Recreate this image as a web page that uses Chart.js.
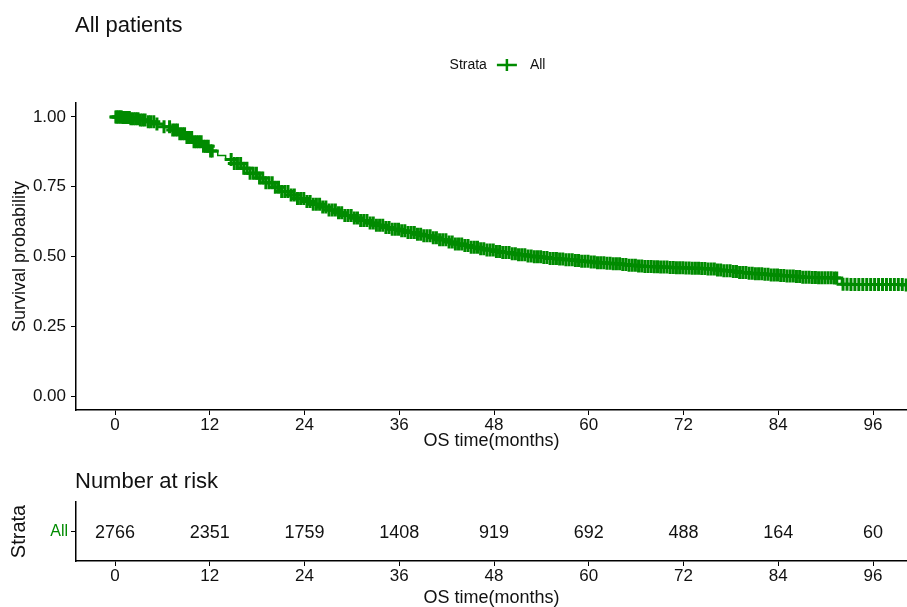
<!DOCTYPE html>
<html>
<head>
<meta charset="utf-8">
<title>All patients</title>
<script src="https://cdn.jsdelivr.net/npm/chart.js@4.4.0/dist/chart.umd.min.js"></script>
<style>
  html, body { margin: 0; padding: 0; background: #fff; }
  #wrap { position: relative; width: 907px; height: 607px; overflow: hidden; }
  canvas { position: absolute; left: 0; }
  #survChart { top: 0; }
  #riskChart { top: 455px; }
</style>
</head>
<body>
<div id="wrap">
  <canvas id="survChart" width="907" height="455"></canvas>
  <canvas id="riskChart" width="907" height="152"></canvas>
</div>
<script>
  // survival probability at month 0, 1, 2 ... 100 (index = month)
  const survival = [
    1.000, 0.998, 0.994, 0.989, 0.983, 0.975, 0.965, 0.953, 0.940, 0.926,
    0.911, 0.895, 0.878, 0.862, 0.848, 0.833, 0.816, 0.798, 0.781, 0.764,
    0.748, 0.733, 0.720, 0.708, 0.697, 0.687, 0.677, 0.667, 0.657, 0.647,
    0.638, 0.629, 0.620, 0.612, 0.604, 0.598, 0.592, 0.586, 0.580, 0.574,
    0.567, 0.560, 0.552, 0.545, 0.539, 0.533, 0.528, 0.523, 0.518, 0.514,
    0.510, 0.506, 0.502, 0.499, 0.496, 0.493, 0.491, 0.488, 0.486, 0.483,
    0.480, 0.478, 0.476, 0.474, 0.471, 0.469, 0.466, 0.464, 0.463, 0.462,
    0.461, 0.460, 0.459, 0.458, 0.457, 0.455, 0.452, 0.449, 0.446, 0.443,
    0.440, 0.438, 0.436, 0.434, 0.432, 0.430, 0.428, 0.426, 0.425, 0.424,
    0.424, 0.423, 0.401, 0.400, 0.400, 0.400, 0.400, 0.400, 0.400, 0.400,
    0.398
  ];

  // censored times (months), the "+" marks
  const censorTimes = [
    0.1, 0.2, 0.4, 0.5, 0.7, 0.8, 1.0, 1.2, 1.4, 1.6, 1.8, 2.0, 2.3, 2.6,
    2.9, 3.2, 3.5, 3.8, 4.2, 4.5, 4.9, 5.3, 6.2, 6.9, 7.3, 7.6, 7.9, 8.2,
    8.5, 8.8, 9.1, 9.4, 9.7, 10.0, 10.3, 10.6, 10.9, 11.2, 11.5, 11.8,
    12.1, 12.3,
    14.7, 15.1, 15.5, 15.9, 16.3, 16.7, 17.1, 17.5, 17.9, 18.3,
    18.7, 19.1, 19.5, 19.9, 20.3, 20.7, 21.1, 21.5, 21.9, 22.3,
    22.7, 23.1, 23.5, 23.9, 24.3, 24.7, 25.1, 25.5, 25.9, 26.3,
    26.7, 27.1, 27.5, 27.9, 28.3, 28.7, 29.1, 29.5, 29.9, 30.3,
    30.7, 31.1, 31.5, 31.9, 32.3, 32.7, 33.1, 33.5, 33.9, 34.3,
    34.7, 35.1, 35.5, 35.9, 36.3, 36.7, 37.1, 37.5, 37.9, 38.3,
    38.7, 39.1, 39.5, 39.9, 40.3, 40.7, 41.1, 41.5, 41.9, 42.3,
    42.7, 43.1, 43.5, 43.9, 44.3, 44.7, 45.1, 45.5, 45.9, 46.3,
    46.7, 47.1, 47.5, 47.9, 48.3, 48.7, 49.1, 49.5, 49.9, 50.3,
    50.7, 51.1, 51.5, 51.9, 52.3, 52.7, 53.1, 53.5, 53.9, 54.3,
    54.7, 55.1, 55.5, 55.9, 56.3, 56.7, 57.1, 57.5, 57.9, 58.3,
    58.7, 59.1, 59.5, 59.9, 60.3, 60.7, 61.1, 61.5, 61.9, 62.3,
    62.7, 63.1, 63.5, 63.9, 64.3, 64.7, 65.1, 65.5, 65.9, 66.3,
    66.7, 67.1, 67.5, 67.9, 68.3, 68.7, 69.1, 69.5, 69.9, 70.3,
    70.7, 71.1, 71.5, 71.9, 72.3, 72.7, 73.1, 73.5, 73.9, 74.3,
    74.7, 75.1, 75.5, 75.9, 76.3, 76.7, 77.1, 77.5, 77.9, 78.3,
    78.7, 79.1, 79.5, 79.9, 80.3, 80.7, 81.1, 81.5, 81.9, 82.3,
    82.7, 83.1, 83.5, 83.9, 84.3, 84.7, 85.1, 85.5, 85.9, 86.3,
    86.7, 87.1, 87.5, 87.9, 88.3, 88.7, 89.1, 89.5, 89.9, 90.3,
    90.7, 91.1, 91.4,
    92.2, 92.7, 93.2, 93.7, 94.2, 94.7, 95.2, 95.7, 96.2, 96.7,
    97.2, 97.7, 98.2, 98.7, 99.2, 99.7, 100.2
  ];

  const xTicks = [0, 12, 24, 36, 48, 60, 72, 84, 96];
  const yTicks = [0, 0.25, 0.5, 0.75, 1];

  const strata = ['All'];
  const riskTimes = [0, 12, 24, 36, 48, 60, 72, 84, 96];
  const riskCounts = [2766, 2351, 1759, 1408, 919, 692, 488, 164, 60];

  const GREEN = '#008b00';
  const FONT = "'Liberation Sans', Arial, sans-serif";
  Chart.defaults.font.family = FONT;
  Chart.defaults.color = '#111';

  const curvePoints = survival.map((s, m) => ({ x: m, y: s }));
  // a censor mark sits on the step the curve is on at that time
  const censorPoints = censorTimes.map(t => ({ x: t, y: survival[Math.floor(t)] }));

  function timeAxis(height, titlePad) {
    return {
      type: 'linear',
      min: -4.95,
      max: 100.3,
      afterBuildTicks: s => { s.ticks = xTicks.map(v => ({ value: v })); },
      afterFit: s => { s.height = height; },
      grid: { drawOnChartArea: false, drawTicks: true, tickLength: 5, color: '#000', lineWidth: 1 },
      border: { color: '#000', width: 1.5 },
      ticks: { font: { size: 17 }, padding: 0, maxRotation: 0, color: '#111' },
      title: {
        display: true,
        text: 'OS time(months)',
        font: { size: 18, lineHeight: 1 },
        padding: { top: 0, bottom: titlePad },
        color: '#111'
      }
    };
  }

  const survDecor = {
    id: 'survDecor',
    afterDraw(chart) {
      const { ctx, chartArea } = chart;
      ctx.save();
      ctx.fillStyle = '#111';
      ctx.textBaseline = 'alphabetic';
      ctx.textAlign = 'left';
      ctx.font = '22px ' + FONT;
      ctx.fillText('All patients', chartArea.left - 1, 32);

      // legend: "Strata  -+-  All"
      ctx.font = '14px ' + FONT;
      ctx.textBaseline = 'middle';
      const wStrata = ctx.measureText('Strata').width;
      const wAll = ctx.measureText(strata[0]).width;
      const total = wStrata + 10 + 20 + 13 + wAll;
      let x = (chartArea.left + chartArea.right) / 2 - total / 2 + 6;
      const y = 65;
      ctx.fillText('Strata', x, y);
      x += wStrata + 10;
      ctx.strokeStyle = GREEN;
      ctx.lineWidth = 2.5;
      ctx.beginPath();
      ctx.moveTo(x, y); ctx.lineTo(x + 20, y);
      ctx.moveTo(x + 10, y - 6); ctx.lineTo(x + 10, y + 6);
      ctx.stroke();
      x += 20 + 13;
      ctx.fillText(strata[0], x, y);
      ctx.restore();
    }
  };

  new Chart(document.getElementById('survChart').getContext('2d'), {
    type: 'line',
    data: {
      datasets: [{
        label: strata[0],
        data: curvePoints,
        borderColor: GREEN,
        borderWidth: 1.5,
        stepped: 'before',
        pointRadius: 0,
        fill: false
      }, {
        label: 'censored',
        data: censorPoints,
        showLine: false,
        pointStyle: 'cross',
        pointRadius: 6.5,
        pointBorderWidth: 3,
        pointBorderColor: GREEN,
        pointBackgroundColor: GREEN
      }]
    },
    options: {
      responsive: false,
      animation: false,
      events: [],
      layout: { autoPadding: false, padding: { top: 103, right: 0, left: 0, bottom: 0 } },
      plugins: { legend: { display: false }, tooltip: { enabled: false } },
      scales: {
        x: timeAxis(45, 5),
        y: {
          type: 'linear',
          min: -0.05,
          max: 1.05,
          afterBuildTicks: s => { s.ticks = yTicks.map(v => ({ value: v })); },
          afterFit: s => { s.width = 76; },
          grid: { drawOnChartArea: false, drawTicks: true, tickLength: 5, color: '#000', lineWidth: 1 },
          border: { color: '#000', width: 1.5 },
          ticks: { font: { size: 17 }, padding: 5, color: '#111', callback: v => v.toFixed(2) },
          title: {
            display: true,
            text: 'Survival probability',
            font: { size: 18, lineHeight: 1 },
            padding: { top: 11, bottom: 0 },
            color: '#111'
          }
        }
      }
    },
    plugins: [survDecor]
  });

  const riskDecor = {
    id: 'riskDecor',
    afterDatasetsDraw(chart) {
      const { ctx } = chart;
      const meta = chart.getDatasetMeta(0);
      ctx.save();
      ctx.fillStyle = '#111';
      ctx.font = '18px ' + FONT;
      ctx.textAlign = 'center';
      ctx.textBaseline = 'middle';
      meta.data.forEach((pt, i) => ctx.fillText(String(riskCounts[i]), pt.x, pt.y + 2));
      ctx.restore();
    },
    afterDraw(chart) {
      const { ctx, chartArea } = chart;
      ctx.save();
      ctx.fillStyle = '#111';
      ctx.font = '22px ' + FONT;
      ctx.textAlign = 'left';
      ctx.textBaseline = 'alphabetic';
      ctx.fillText('Number at risk', chartArea.left - 1, 33);
      ctx.restore();
    }
  };

  new Chart(document.getElementById('riskChart').getContext('2d'), {
    type: 'scatter',
    data: {
      datasets: [{
        label: 'Number at risk',
        data: riskTimes.map(t => ({ x: t, y: 1 })),
        pointRadius: 0,
        showLine: false
      }]
    },
    options: {
      responsive: false,
      animation: false,
      events: [],
      layout: { autoPadding: false, padding: { top: 47, right: 0, left: 0, bottom: 0 } },
      plugins: { legend: { display: false }, tooltip: { enabled: false } },
      scales: {
        x: timeAxis(46, 0),
        y: {
          type: 'linear',
          min: 0,
          max: 2,
          afterBuildTicks: s => { s.ticks = [{ value: 1 }]; },
          afterFit: s => { s.width = 76; },
          grid: { drawOnChartArea: false, drawTicks: true, tickLength: 5, color: '#000', lineWidth: 1 },
          border: { color: '#000', width: 1.5 },
          ticks: { font: { size: 16 }, padding: 3, color: GREEN, callback: () => strata[0] },
          title: {
            display: true,
            text: 'Strata',
            font: { size: 20, lineHeight: 1 },
            padding: { top: 9, bottom: 0 },
            color: '#111'
          }
        }
      }
    },
    plugins: [riskDecor]
  });
</script>
</body>
</html>
